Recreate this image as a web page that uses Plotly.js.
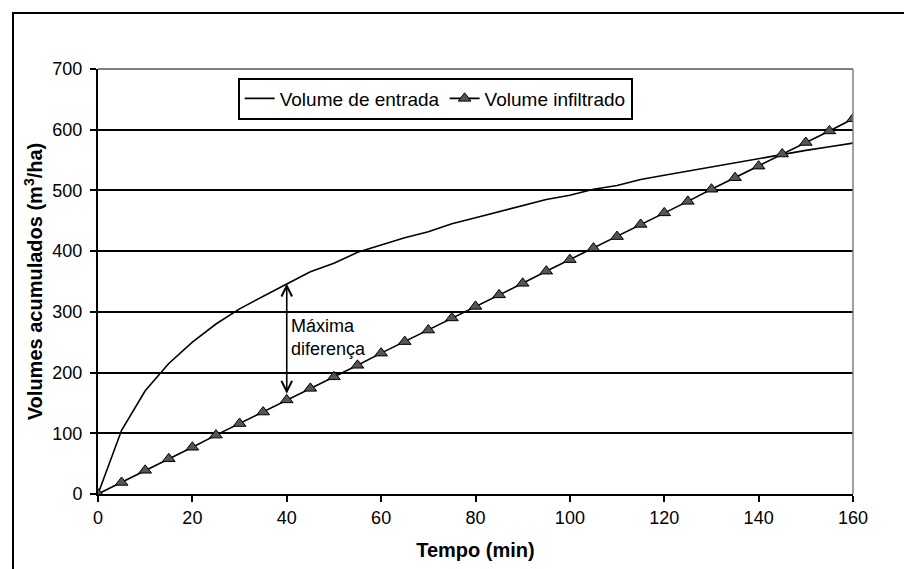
<!DOCTYPE html>
<html>
<head>
<meta charset="utf-8">
<script src="https://cdn.plot.ly/plotly-3.0.1.min.js"></script>
<style>
  html, body { margin: 0; padding: 0; background: #fff; }
  #wrap { position: relative; width: 904px; height: 569px; overflow: hidden; }
  #chart { width: 904px; height: 569px; }
  #frame {
    position: absolute; left: 12px; top: 12px; width: 960px; height: 620px;
    border-left: 2px solid #000; border-top: 2px solid #000;
    pointer-events: none;
  }
</style>
</head>
<body>
<div id="wrap">
  <div id="chart"></div>
  <div id="frame"></div>
</div>
<script>
// Tempo (min)
const tempo = [0, 5, 10, 15, 20, 25, 30, 35, 40, 45, 50, 55, 60, 65, 70, 75, 80,
               85, 90, 95, 100, 105, 110, 115, 120, 125, 130, 135, 140, 145, 150, 155, 160];

// Volume de entrada (m3/ha)
const volEntrada = [0, 105, 170, 215, 250, 280, 305, 326, 346, 366, 380, 398, 410, 422, 432, 445, 455,
                    465, 475, 485, 492, 502, 508, 518, 525, 532, 539, 546, 553, 560, 566, 572, 578];

// Volume infiltrado (m3/ha)
const volInfiltrado = [0, 19, 39, 58, 77, 97, 116, 135, 155, 174, 193, 212, 232, 251, 270, 290, 309,
                       328, 347, 367, 386, 405, 424, 444, 463, 482, 502, 521, 540, 560, 579, 598, 618];

const xTicks = [0, 20, 40, 60, 80, 100, 120, 140, 160];
const yTicks = [0, 100, 200, 300, 400, 500, 600, 700];

const FONT = 'Liberation Sans, Arial, sans-serif';

const traces = [
  {
    x: tempo, y: volEntrada, name: 'Volume de entrada',
    mode: 'lines', line: { color: '#000', width: 1.6 }
  },
  {
    x: tempo, y: volInfiltrado, name: 'Volume infiltrado',
    mode: 'lines+markers', line: { color: '#000', width: 1.6 },
    marker: { symbol: 'triangle-up', size: 11, color: '#555555', line: { color: '#000', width: 1 } }
  }
];

const layout = {
  width: 904, height: 569,
  margin: { l: 98, r: 51, t: 69, b: 75 },
  paper_bgcolor: '#fff', plot_bgcolor: '#fff',
  font: { family: FONT, size: 18, color: '#000' },
  showlegend: true,
  legend: {
    orientation: 'h', x: 0.185, xanchor: 'left', y: 0.98, yanchor: 'top',
    bordercolor: '#000', borderwidth: 2, bgcolor: '#fff',
    font: { family: FONT, size: 19, color: '#000' },
    tracegroupgap: 0, itemwidth: 30
  },
  xaxis: {
    range: [0, 160], tickvals: xTicks, ticktext: xTicks.map(String),
    showline: true, linecolor: '#000', linewidth: 2,
    ticks: 'outside', ticklen: 6, tickcolor: '#000', tickwidth: 2,
    showgrid: false, zeroline: false,
    tickfont: { family: FONT, size: 18, color: '#000' },
    title: { text: '<b>Tempo (min)</b>', font: { family: FONT, size: 20, color: '#000' }, standoff: 16 }
  },
  yaxis: {
    range: [0, 700], tickvals: yTicks, ticktext: yTicks.map(String),
    showline: true, linecolor: '#000', linewidth: 2,
    ticks: 'outside', ticklen: 6, tickcolor: '#000', tickwidth: 2,
    showgrid: true, gridcolor: '#000', gridwidth: 2, zeroline: false,
    ticklabelstandoff: 4,
    tickfont: { family: FONT, size: 18, color: '#000' },
    title: { text: '<b>Volumes acumulados (m<sup>3</sup>/ha)</b>', font: { family: FONT, size: 20, color: '#000' }, standoff: 4 }
  },
  shapes: [
    // grey top and right plot borders
    { type: 'line', xref: 'paper', yref: 'paper', x0: 0, x1: 1, y0: 1, y1: 1, line: { color: '#808080', width: 2 } },
    { type: 'line', xref: 'paper', yref: 'paper', x0: 1, x1: 1, y0: 0, y1: 1, line: { color: '#808080', width: 1.5 } }
  ],
  annotations: [
    {
      x: 40, y: 165, ax: 40, ay: 349, xref: 'x', yref: 'y', axref: 'x', ayref: 'y',
      text: '', showarrow: true, arrowhead: 5, startarrowhead: 5, arrowside: 'end+start',
      arrowsize: 1.3, startarrowsize: 1.3, arrowwidth: 1.6, arrowcolor: '#000'
    },
    {
      x: 40, y: 257, xref: 'x', yref: 'y', xanchor: 'left', yanchor: 'middle', xshift: 2,
      text: 'Máxima<br>diferença', align: 'left', showarrow: false,
      font: { family: FONT, size: 18, color: '#000' }
    }
  ]
};

Plotly.newPlot('chart', traces, layout, { staticPlot: true, displayModeBar: false });
</script>
</body>
</html>
